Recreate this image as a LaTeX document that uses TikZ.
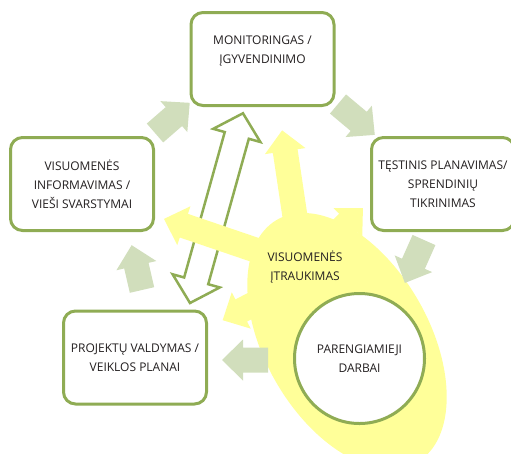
\documentclass[tikz,border=0pt]{standalone}
\usepackage{fontspec}
\setmainfont{Open Sans}

\definecolor{boxgreen}{RGB}{143,172,84}
\definecolor{arrowgreen}{RGB}{209,222,188}
\definecolor{incyellow}{RGB}{255,255,153}
\definecolor{textgray}{RGB}{35,31,32}

% block arrow: colour, tail, angle, length
\newcommand{\blockarrow}[4]{%
  \fill[#1, shift={#2}, rotate=#3] (0,-12.5) -- ({#4-21},-12.5) -- ({#4-21},-20.5)
    -- (#4,0) -- ({#4-21},20.5) -- ({#4-21},12.5) -- (0,12.5) -- cycle;}

\begin{document}
\begin{tikzpicture}[x=1pt, y=-1pt,
    font=\fontsize{12}{19}\selectfont, text=textgray,
    box/.style={draw=boxgreen, line width=3pt, rounded corners=12pt, fill=white,
      minimum width=143pt, minimum height=93pt, align=center}]
    \useasboundingbox (0,0) rectangle (511,453);
    \clip (0,0) rectangle (511,453);

    % Hollow double arrow
    \begin{scope}[shift={(190,303)}, rotate=74.4]
        \draw[boxgreen, line width=2.5pt, fill=white] (0,0) -- (23,24.5) -- (23,12.5) -- (174,12.5)
            -- (174,24.5) -- (197,0) -- (174,-24.5) -- (174,-12.5) -- (23,-12.5) -- (23,-24.5) -- cycle;
    \end{scope}

    % Public involvement
    \fill[incyellow, shift={(347,341)}, rotate=-60] (0,0) ellipse [x radius=140pt, y radius=82pt];
    \blockarrow{incyellow}{(300,250)}{98.5}{121}
    \blockarrow{incyellow}{(270,255)}{161.2}{112}
    \blockarrow{incyellow}{(320,250)}{44.3}{60}
    \blockarrow{incyellow}{(290,285)}{207.6}{76}

    % Cycle arrows
    \blockarrow{arrowgreen}{(155,133)}{41}{46}
    \blockarrow{arrowgreen}{(338,104)}{-40}{48}
    \blockarrow{arrowgreen}{(424,240)}{246}{47}
    \blockarrow{arrowgreen}{(268,360)}{180}{46}
    \blockarrow{arrowgreen}{(142,290)}{103}{46}

    % Stages
    \node[box] (mon) at (262.5,59) {MONITORINGAS /\\ĮGYVENDINIMO\\~};
    \node[box] (info) at (82,184) {VISUOMENĖS\\INFORMAVIMAS /\\VIEŠI SVARSTYMAI};
    \node[box] (plan) at (443,184) {TĘSTINIS PLANAVIMAS/\\SPRENDINIŲ\\TIKRINIMAS};
    \node[box] (proj) at (135,357.5) {PROJEKTŲ VALDYMAS /\\VEIKLOS PLANAI};
    \node[draw=boxgreen, line width=3pt, circle, fill=white, minimum size=130pt,
        align=center] (prep) at (359.5,358.5) {PARENGIAMIEJI\\DARBAI};
    \node[align=center] (incl) at (305,267) {VISUOMENĖS\\ĮTRAUKIMAS};
\end{tikzpicture}
\end{document}
